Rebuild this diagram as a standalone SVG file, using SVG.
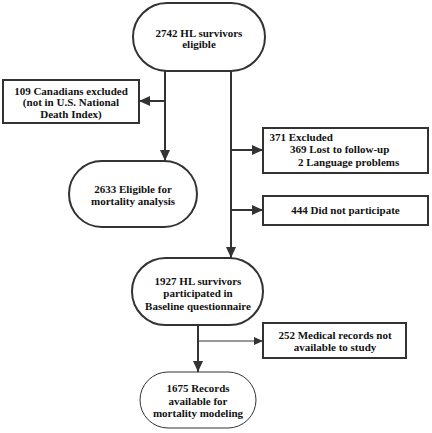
<svg xmlns="http://www.w3.org/2000/svg" width="432" height="433" viewBox="0 0 432 433">
<defs>
<style>
.t{font-family:"Liberation Serif","Times New Roman",serif;font-weight:bold;font-size:11px;fill:#111;text-anchor:middle}
.tl{text-anchor:start}
.n{fill:#fff;stroke:#333;stroke-width:2}
.thin{stroke-width:1}
.c{stroke:#333;stroke-width:2;fill:none}
.c1{stroke:#333;stroke-width:1;fill:none}
</style>
<marker id="a" markerUnits="userSpaceOnUse" markerWidth="11" markerHeight="10" refX="11" refY="5" orient="auto"><path d="M0,0 L11,5 L0,10 z" fill="#333"/></marker>
<marker id="s" markerUnits="userSpaceOnUse" markerWidth="9" markerHeight="8" refX="9" refY="4" orient="auto"><path d="M0,0 L9,4 L0,8 z" fill="#333"/></marker>
</defs>
<g id="connectors">
<path class="c" d="M165,70 V161" marker-end="url(#a)"/>
<path class="c" d="M165,101 H139" marker-end="url(#a)"/>
<path class="c" d="M231,71 V258" marker-end="url(#a)"/>
<path class="c" d="M231,150 H263" marker-end="url(#a)"/>
<path class="c" d="M231,210 H263" marker-end="url(#a)"/>
<path class="c" d="M198,325 V372" marker-end="url(#a)"/>
<path class="c1" d="M198,341 H263" marker-end="url(#s)"/>
</g>
<g id="n1"><rect class="n" x="133" y="3" width="132" height="68" rx="34"/>
<text class="t" x="199" y="37">2742 HL survivors</text><text class="t" x="199" y="48">eligible</text></g>
<g id="n2"><rect class="n" x="3" y="80" width="136" height="43"/>
<text class="t" x="71" y="94.5">109 Canadians excluded</text><text class="t" x="71" y="106">(not in U.S. National</text><text class="t" x="71" y="118">Death Index)</text></g>
<g id="n3"><rect class="n" x="69" y="161" width="128" height="66" rx="33"/>
<text class="t" x="133" y="193">2633 Eligible for</text><text class="t" x="133" y="205">mortality analysis</text></g>
<g id="n4"><rect class="n" x="263" y="128" width="165" height="45"/>
<text class="t tl" x="269.5" y="141">371 Excluded</text><text class="t tl" x="290" y="153">369 Lost to follow-up</text><text class="t tl" x="298" y="166">2 Language problems</text></g>
<g id="n5"><rect class="n" x="263" y="196" width="165" height="29"/>
<text class="t" x="345.5" y="214">444 Did not participate</text></g>
<g id="n6"><rect class="n" x="132" y="258" width="131" height="67" rx="33.5"/>
<text class="t" x="198" y="285">1927 HL survivors</text><text class="t" x="198" y="296.5">participated in</text><text class="t" x="198" y="309.5">Baseline questionnaire</text></g>
<g id="n7"><rect class="n" x="263" y="323" width="143" height="35"/>
<text class="t" x="335" y="339">252 Medical records not</text><text class="t" x="335" y="351">available to study</text></g>
<g id="n8"><rect class="n thin" x="140" y="372" width="116" height="56" rx="28"/>
<text class="t" x="198" y="392">1675 Records</text><text class="t" x="198" y="404.5">available for</text><text class="t" x="198" y="416.5">mortality modeling</text></g>
</svg>
